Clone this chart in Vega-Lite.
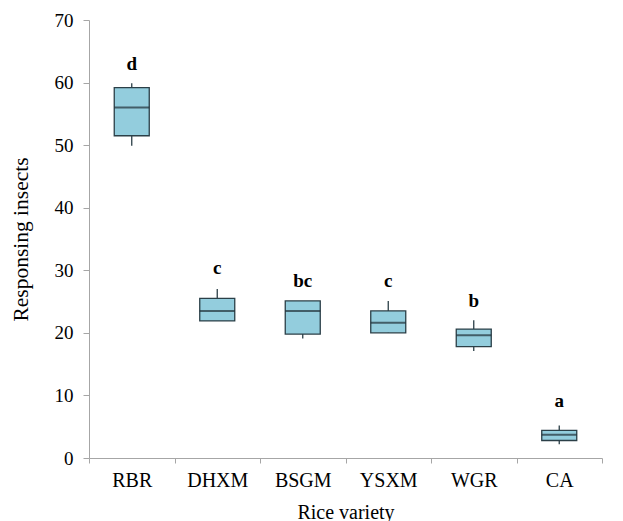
{
  "$schema": "https://vega.github.io/schema/vega-lite/v6.json",
  "width": 513,
  "height": 438,
  "autosize": "none",
  "padding": {"left": 89, "top": 20, "right": 21, "bottom": 63},
  "background": "white",
  "config": {"view": {"stroke": null}, "font": "Liberation Serif"},
  "data": {"values": [
    {"variety": "RBR", "min": 49.9, "q1": 51.5, "median": 56.0, "q3": 59.2, "max": 59.9, "letter": "d", "letter_y": 62.0},
    {"variety": "DHXM", "min": 21.9, "q1": 21.9, "median": 23.5, "q3": 25.5, "max": 27.0, "letter": "c", "letter_y": 29.4},
    {"variety": "BSGM", "min": 19.1, "q1": 19.8, "median": 23.5, "q3": 25.1, "max": 25.1, "letter": "bc", "letter_y": 27.3},
    {"variety": "YSXM", "min": 20.0, "q1": 20.0, "median": 21.6, "q3": 23.5, "max": 25.1, "letter": "c", "letter_y": 27.3},
    {"variety": "WGR", "min": 17.1, "q1": 17.8, "median": 19.6, "q3": 20.6, "max": 22.0, "letter": "b", "letter_y": 24.2},
    {"variety": "CA", "min": 2.2, "q1": 2.8, "median": 3.7, "q3": 4.4, "max": 5.2, "letter": "a", "letter_y": 8.2}
  ]},
  "encoding": {
    "x": {
      "field": "variety", "type": "nominal", "sort": null,
      "scale": {"paddingInner": 0, "paddingOuter": 0},
      "axis": {
        "title": "Rice variety", "labelAngle": 0, "tickBand": "extent",
        "domainColor": "#a6a6a6", "tickColor": "#a6a6a6", "tickSize": 5,
        "labelFont": "Liberation Serif", "labelFontSize": 20, "labelColor": "black", "labelPadding": 7,
        "titleFont": "Liberation Serif", "titleFontSize": 20, "titleFontWeight": "normal", "titleColor": "black", "titlePadding": 12
      }
    }
  },
  "layer": [
    {
      "mark": {"type": "rule", "color": "#2b3f47", "strokeWidth": 1.3},
      "encoding": {
        "y": {
          "field": "min", "type": "quantitative",
          "scale": {"domain": [0, 70]},
          "axis": {
            "title": "Responsing insects", "values": [0, 10, 20, 30, 40, 50, 60, 70], "grid": false,
            "domainColor": "#a6a6a6", "tickColor": "#a6a6a6", "tickSize": 6,
            "labelFont": "Liberation Serif", "labelFontSize": 19, "labelColor": "black", "labelPadding": 10,
            "titleFont": "Liberation Serif", "titleFontSize": 21.5, "titleFontWeight": "normal", "titleColor": "black", "titlePadding": 22
          }
        },
        "y2": {"field": "max"}
      }
    },
    {
      "mark": {"type": "bar", "size": 35, "fill": "#93cddd", "stroke": "#2b3f47", "strokeWidth": 1.3},
      "encoding": {"y": {"field": "q1", "type": "quantitative"}, "y2": {"field": "q3"}}
    },
    {
      "mark": {"type": "tick", "size": 35, "color": "#1f2f36", "thickness": 2},
      "encoding": {"y": {"field": "median", "type": "quantitative"}}
    },
    {
      "mark": {"type": "text", "baseline": "alphabetic", "fontSize": 19, "fontWeight": "bold", "font": "Liberation Serif", "color": "black"},
      "encoding": {"y": {"field": "letter_y", "type": "quantitative"}, "text": {"field": "letter"}}
    }
  ]
}
